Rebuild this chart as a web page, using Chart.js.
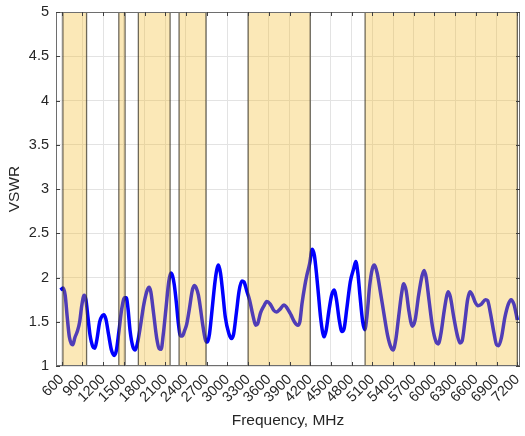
<!DOCTYPE html>
<html>
<head>
<meta charset="utf-8">
<script src="https://cdn.jsdelivr.net/npm/chart.js@4/dist/chart.umd.min.js"></script>
<style>
  html, body { margin: 0; padding: 0; background: #fff; }
  #wrap { width: 525px; height: 436px; }
</style>
</head>
<body>
<div id="wrap"><canvas id="c" width="525" height="436"></canvas></div>
<script>
// Frequency (MHz) and VSWR readings
const freqMHz = [580,600,620,650,680,710,740,760,790,830,860,890,925,950,980,1010,1050,1080,1110,1150,1190,1210,1240,1280,1320,1360,1390,1430,1470,1510,1535,1560,1590,1630,1665,1700,1740,1790,1840,1865,1890,1930,1975,2010,2040,2070,2110,2150,2180,2205,2230,2260,2290,2320,2350,2380,2410,2450,2490,2520,2550,2580,2610,2640,2680,2710,2740,2780,2820,2850,2870,2900,2930,2970,3020,3060,3090,3130,3170,3210,3240,3280,3320,3370,3410,3440,3480,3530,3570,3620,3670,3710,3760,3820,3860,3920,3970,4020,4050,4080,4120,4150,4190,4230,4260,4290,4320,4350,4380,4400,4430,4470,4510,4545,4580,4620,4660,4690,4730,4780,4830,4860,4890,4920,4960,4990,5020,5060,5100,5130,5170,5220,5270,5320,5370,5400,5440,5480,5520,5555,5590,5630,5680,5720,5770,5820,5850,5880,5920,5970,6020,6055,6090,6140,6180,6200,6230,6280,6330,6370,6400,6440,6480,6515,6550,6590,6630,6680,6740,6770,6810,6860,6900,6930,6970,7020,7070,7110,7150,7180,7200];
const vswr = [1.86,1.87,1.88,1.80,1.55,1.33,1.25,1.24,1.32,1.40,1.50,1.68,1.80,1.75,1.55,1.35,1.22,1.20,1.30,1.50,1.57,1.58,1.53,1.35,1.18,1.12,1.17,1.40,1.65,1.77,1.77,1.65,1.40,1.22,1.18,1.27,1.45,1.70,1.86,1.89,1.84,1.60,1.32,1.20,1.19,1.35,1.65,1.95,2.05,2.02,1.92,1.72,1.48,1.34,1.34,1.40,1.47,1.65,1.85,1.91,1.88,1.80,1.65,1.48,1.30,1.27,1.36,1.65,1.95,2.10,2.14,2.05,1.85,1.55,1.37,1.31,1.36,1.60,1.85,1.96,1.95,1.85,1.75,1.57,1.46,1.48,1.60,1.68,1.73,1.70,1.63,1.61,1.64,1.69,1.66,1.58,1.50,1.46,1.50,1.70,1.90,2.02,2.15,2.32,2.25,2.05,1.80,1.55,1.38,1.33,1.40,1.62,1.80,1.86,1.75,1.52,1.39,1.42,1.65,1.95,2.10,2.18,2.05,1.80,1.50,1.41,1.55,1.90,2.10,2.14,2.05,1.82,1.58,1.35,1.21,1.18,1.30,1.55,1.80,1.93,1.85,1.62,1.45,1.52,1.80,2.02,2.08,2.00,1.75,1.45,1.28,1.25,1.35,1.62,1.80,1.84,1.78,1.55,1.35,1.26,1.28,1.50,1.75,1.84,1.80,1.72,1.68,1.70,1.75,1.74,1.60,1.38,1.24,1.23,1.32,1.55,1.70,1.75,1.70,1.60,1.52];

// Highlighted frequency bands (MHz)
const bandStart = [617, 1427, 1710, 2300, 3300, 4995];
const bandEnd   = [960, 1518, 2170, 2690, 4200, 7200];

// Tick labels
const xTicks = [600,900,1200,1500,1800,2100,2400,2700,3000,3300,3600,3900,4200,4500,4800,5100,5400,5700,6000,6300,6600,6900,7200];
const yTicks = [1,1.5,2,2.5,3,3.5,4,4.5,5];

const FONT = "'Liberation Sans', Arial, Helvetica, sans-serif";
const TXT = '#262626';

const points = freqMHz.map((f, i) => ({ x: f, y: vswr[i] }));

const bandsPlugin = {
  id: 'bands',
  afterDatasetsDraw(chart) {
    const { ctx, chartArea, scales } = chart;
    const xs = scales.x, ys = scales.y;
    ctx.save();
    ctx.beginPath();
    ctx.rect(chartArea.left, chartArea.top, chartArea.right - chartArea.left, chartArea.bottom - chartArea.top);
    ctx.clip();
    for (let i = 0; i < bandStart.length; i++) {
      const x0 = xs.getPixelForValue(bandStart[i]);
      const x1 = xs.getPixelForValue(bandEnd[i]);
      const y0 = ys.getPixelForValue(5);
      const y1 = ys.getPixelForValue(1);
      ctx.fillStyle = 'rgba(244,184,36,0.33)';
      ctx.fillRect(x0, y0, x1 - x0, y1 - y0);
      ctx.strokeStyle = 'rgba(50,45,35,0.7)';
      ctx.lineWidth = 1.3;
      ctx.strokeRect(x0, y0, x1 - x0, y1 - y0);
    }
    ctx.restore();
  },
  afterDraw(chart) {
    const { ctx, chartArea, scales } = chart;
    const { left, right, top, bottom } = chartArea;
    ctx.save();
    ctx.strokeStyle = '#6e6e6e';
    ctx.lineWidth = 1;
    ctx.strokeRect(left + 0.5, top + 0.5, right - left - 1, bottom - top - 1);
    ctx.strokeStyle = '#404040';
    ctx.beginPath();
    xTicks.forEach(v => {
      const px = Math.round(scales.x.getPixelForValue(v)) + 0.5;
      ctx.moveTo(px, bottom); ctx.lineTo(px, bottom - 4);
      ctx.moveTo(px, top); ctx.lineTo(px, top + 4);
    });
    yTicks.forEach(v => {
      const py = Math.round(scales.y.getPixelForValue(v)) + 0.5;
      ctx.moveTo(left, py); ctx.lineTo(left + 4, py);
      ctx.moveTo(right, py); ctx.lineTo(right - 4, py);
    });
    ctx.stroke();
    ctx.restore();
  }
};

new Chart(document.getElementById('c'), {
  type: 'line',
  data: {
    datasets: [{
      data: points,
      borderColor: '#0000ff',
      borderWidth: 3.5,
      pointRadius: 0,
      fill: false,
      cubicInterpolationMode: 'monotone'
    }]
  },
  options: {
    responsive: false,
    animation: false,
    devicePixelRatio: 1,
    layout: { padding: { left: 0, right: 5, top: 12, bottom: 0 } },
    plugins: { legend: { display: false }, tooltip: { enabled: false } },
    scales: {
      x: {
        type: 'linear',
        min: 517, max: 7239,
        afterBuildTicks: (s) => { s.ticks = xTicks.map(v => ({ value: v })); },
        afterFit: (s) => { s.height = 70; s.paddingLeft = 0; s.paddingRight = 0; },
        ticks: {
          autoSkip: false, minRotation: 45, maxRotation: 45, padding: 5,
          color: TXT, font: { family: FONT, size: 14.5 },
          callback: (v) => String(v)
        },
        grid: { color: '#e3e3e3', drawTicks: false },
        border: { display: false },
        title: { display: true, text: 'Frequency, MHz', color: TXT,
                 font: { family: FONT, size: 15.5 }, padding: { top: 0, bottom: 5.5 } }
      },
      y: {
        type: 'linear',
        min: 1, max: 5,
        afterBuildTicks: (s) => { s.ticks = yTicks.map(v => ({ value: v })); },
        afterFit: (s) => { s.width = 56; s.paddingTop = 0; s.paddingBottom = 0; },
        ticks: { padding: 7, color: TXT, font: { family: FONT, size: 14.5 },
                 callback: (v) => String(v) },
        grid: { color: '#e3e3e3', drawTicks: false },
        border: { display: false },
        title: { display: true, text: 'VSWR', color: TXT,
                 font: { family: FONT, size: 15.5 }, padding: { top: 5.5, bottom: 0 } }
      }
    }
  },
  plugins: [bandsPlugin]
});
</script>
</body>
</html>
